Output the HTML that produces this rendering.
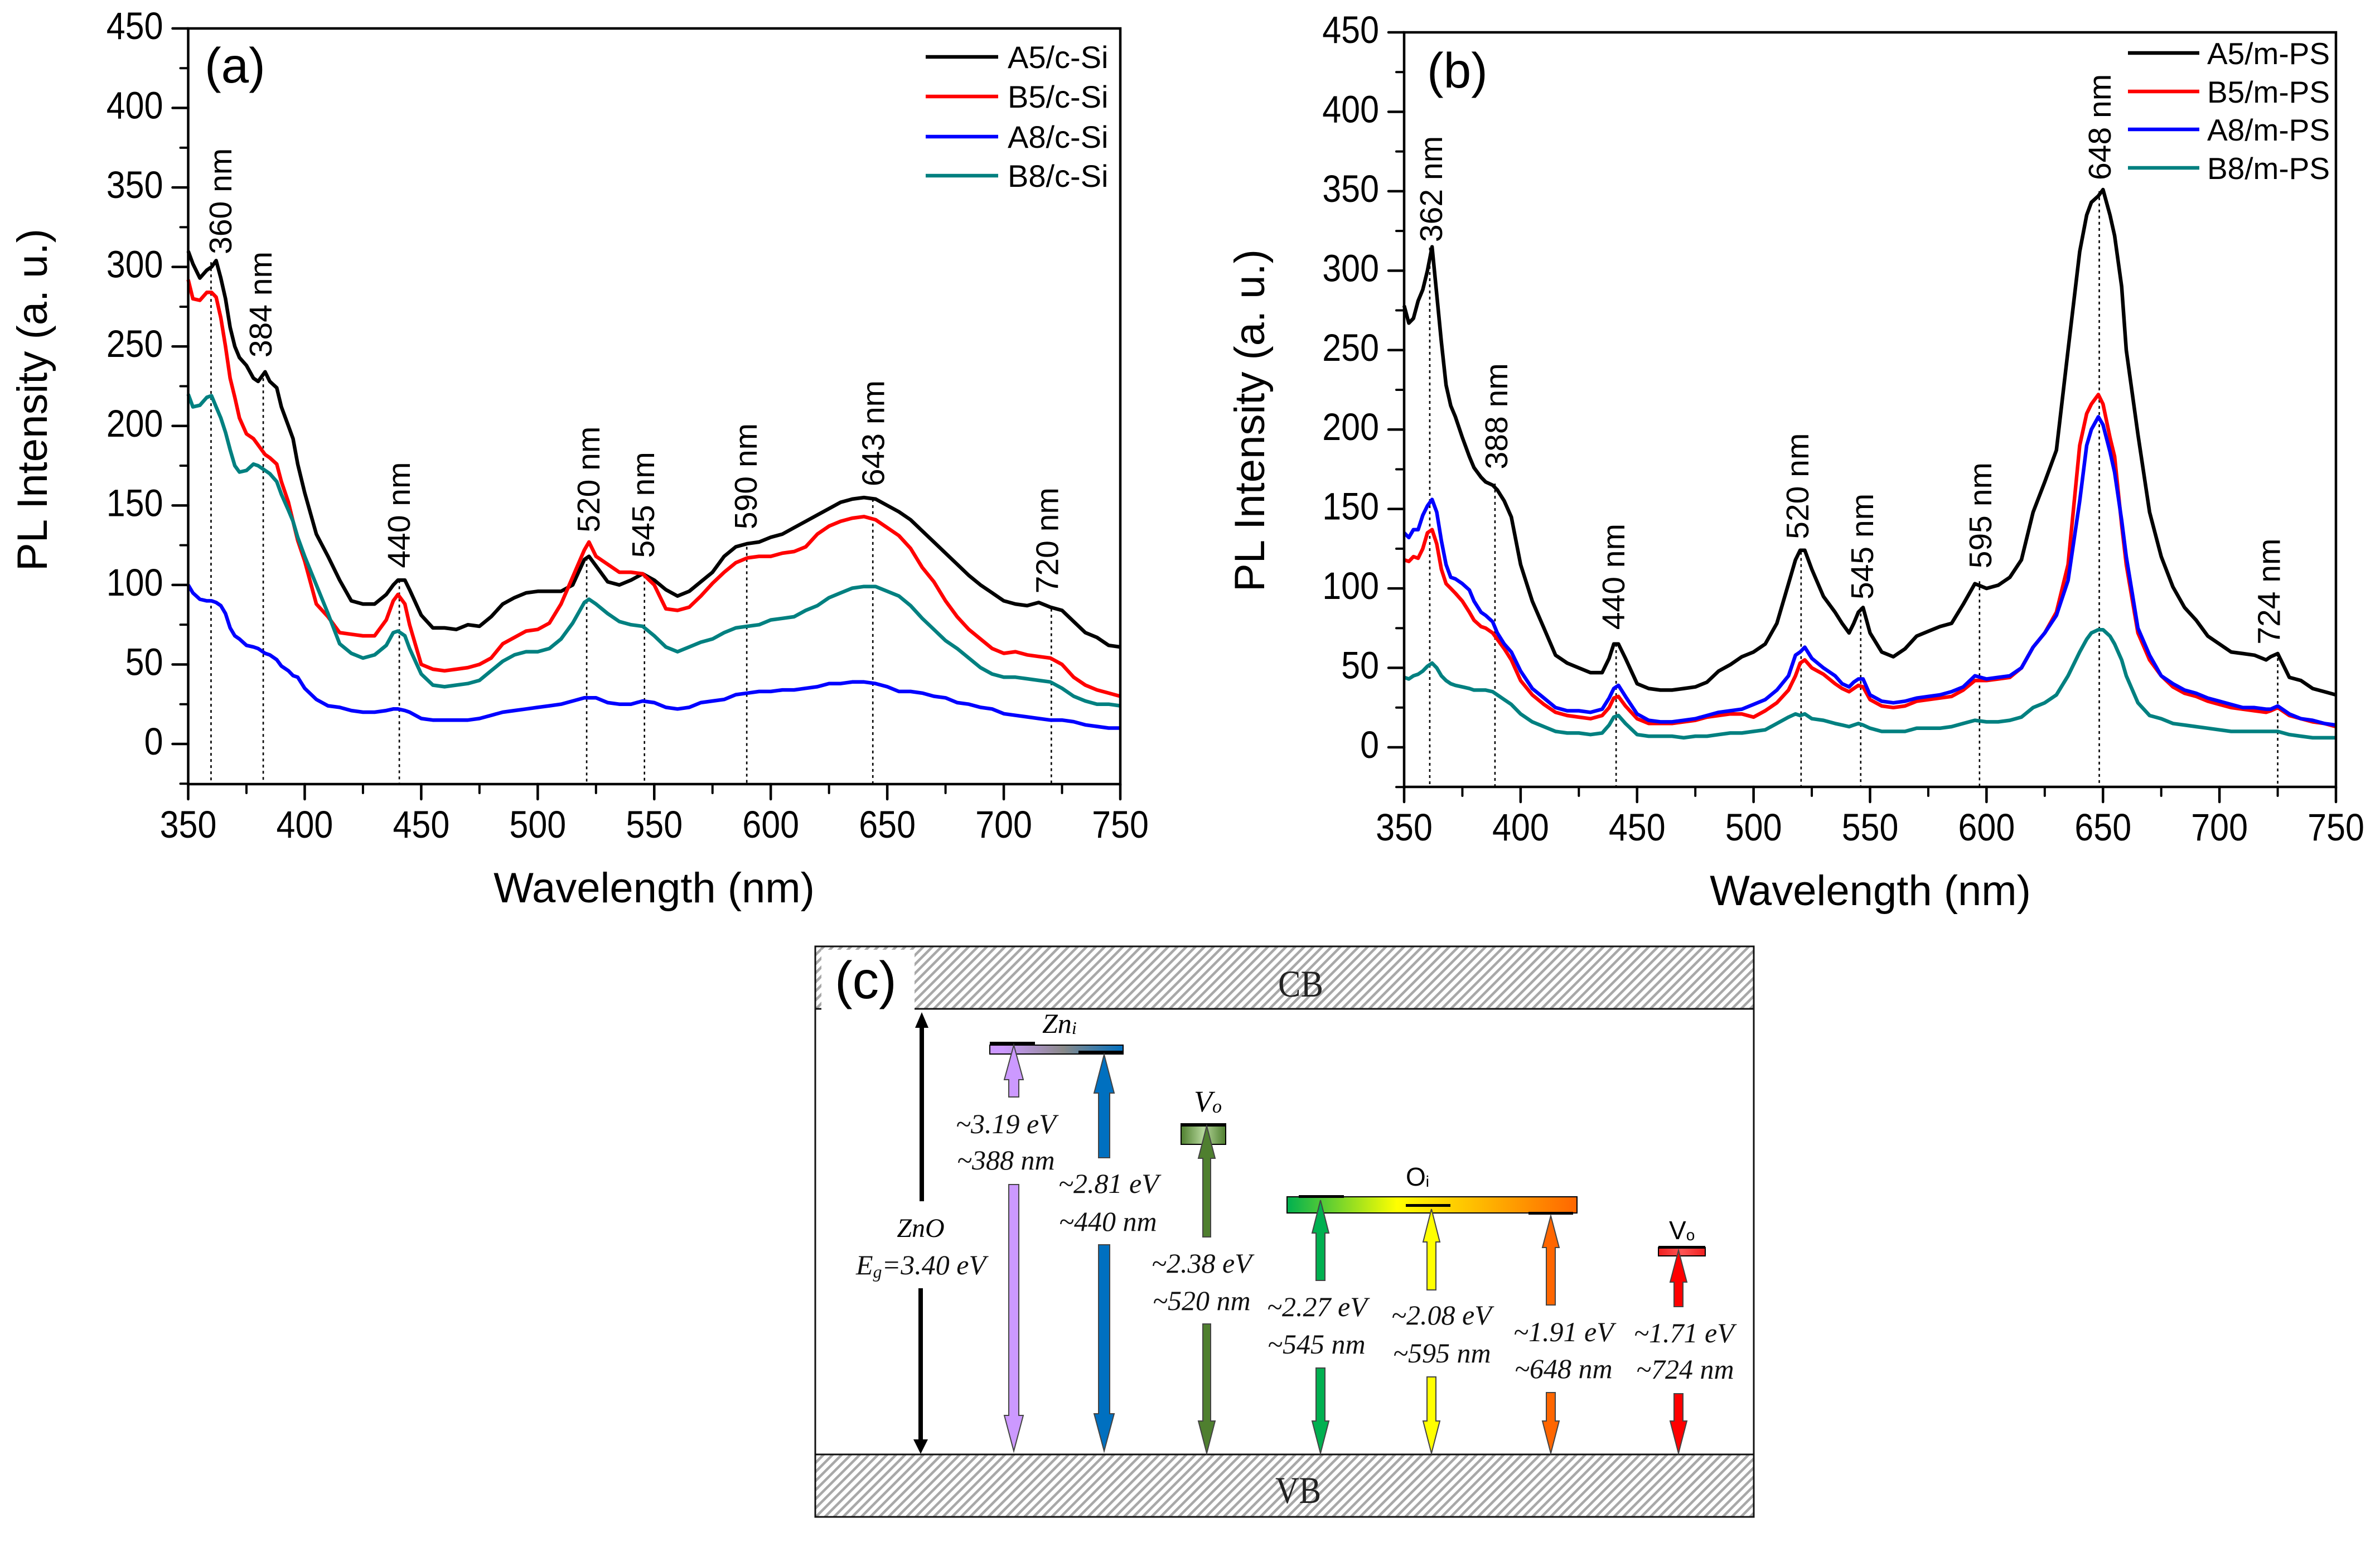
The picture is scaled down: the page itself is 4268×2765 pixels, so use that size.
<!DOCTYPE html>
<html>
<head>
<meta charset="utf-8">
<title>PL spectra and energy diagram</title>
<style>
html,body{margin:0;padding:0;background:#fff;width:4268px;height:2765px;overflow:hidden}
svg{display:block}
text{font-family:"Liberation Sans",sans-serif;fill:#000}
.serif{font-family:"Liberation Serif",serif;font-style:italic}
.leg{font-size:56px}
.legb{font-size:55px}
.axt{font-size:76px}
.e{font-family:"Liberation Serif",serif;font-style:italic;font-size:50px;fill:#111}
.ar{stroke:#444;stroke-width:2}
</style>
</head>
<body>
<svg id="figure" xmlns="http://www.w3.org/2000/svg" width="4268" height="2765" viewBox="0 0 4268 2765">
<defs>
<pattern id="hatch" width="11.5" height="11.5" patternUnits="userSpaceOnUse" patternTransform="rotate(45)">
<rect width="11.5" height="11.5" fill="#fff"/><rect x="0" y="0" width="4.6" height="11.5" fill="#a8a8a8"/>
</pattern>
<linearGradient id="zniGrad"><stop offset="0.1" stop-color="#CC99FF"/><stop offset="0.55" stop-color="#8a8a8a"/><stop offset="1" stop-color="#0070C0"/></linearGradient>
<linearGradient id="voGrad"><stop offset="0" stop-color="#4F7F2F"/><stop offset="0.5" stop-color="#B4D69A"/><stop offset="1" stop-color="#4F7F2F"/></linearGradient>
<linearGradient id="oiGrad"><stop offset="0" stop-color="#00B050"/><stop offset="0.38" stop-color="#FFFF00"/><stop offset="1" stop-color="#FF6600"/></linearGradient>
<linearGradient id="redGrad"><stop offset="0" stop-color="#F02020"/><stop offset="0.5" stop-color="#FF5555"/><stop offset="1" stop-color="#F02020"/></linearGradient>
</defs>

<g id="panelA"></g>
<g id="panelB"></g>

<!-- Panel a static text and legend -->
<text x="367" y="148" font-size="89">(a)</text>
<text x="1173" y="1618" text-anchor="middle" class="axt">Wavelength (nm)</text>
<text transform="translate(84 717) rotate(-90)" text-anchor="middle" class="axt">PL Intensity (a. u.)</text>
<g>
<line x1="1660" x2="1790" y1="102" y2="102" stroke="#000" stroke-width="6.5"/>
<text x="1807" y="122" class="leg">A5/c-Si</text>
<line x1="1660" x2="1790" y1="173" y2="173" stroke="#f00" stroke-width="6.5"/>
<text x="1807" y="193" class="leg">B5/c-Si</text>
<line x1="1660" x2="1790" y1="245" y2="245" stroke="#00f" stroke-width="6.5"/>
<text x="1807" y="265" class="leg">A8/c-Si</text>
<line x1="1660" x2="1790" y1="315" y2="315" stroke="#008080" stroke-width="6.5"/>
<text x="1807" y="335" class="leg">B8/c-Si</text>
</g>

<!-- Panel b static text and legend -->
<text x="2559" y="157" font-size="89">(b)</text>
<text x="3354" y="1623" text-anchor="middle" class="axt">Wavelength (nm)</text>
<text transform="translate(2267 754) rotate(-90)" text-anchor="middle" class="axt">PL Intensity (a. u.)</text>
<g>
<line x1="3816" x2="3944" y1="95" y2="95" stroke="#000" stroke-width="6.5"/>
<text x="3958" y="115" class="legb">A5/m-PS</text>
<line x1="3816" x2="3944" y1="164" y2="164" stroke="#f00" stroke-width="6.5"/>
<text x="3958" y="184" class="legb">B5/m-PS</text>
<line x1="3816" x2="3944" y1="232" y2="232" stroke="#00f" stroke-width="6.5"/>
<text x="3958" y="252" class="legb">A8/m-PS</text>
<line x1="3816" x2="3944" y1="301" y2="301" stroke="#008080" stroke-width="6.5"/>
<text x="3958" y="321" class="legb">B8/m-PS</text>
</g>

<!-- Panel c: energy diagram -->
<g>
<rect x="1462" y="1697" width="1683" height="1023" fill="#fff"/>
<rect x="1462" y="1697" width="1683" height="112" fill="url(#hatch)"/>
<rect x="1462" y="2608" width="1683" height="112" fill="url(#hatch)"/>
<line x1="1462" x2="3145" y1="1809" y2="1809" stroke="#111" stroke-width="3"/>
<line x1="1462" x2="3145" y1="2608" y2="2608" stroke="#111" stroke-width="3"/>
<rect x="1462" y="1697" width="1683" height="1023" fill="none" stroke="#111" stroke-width="3"/>
<rect x="1473" y="1703" width="167" height="109" fill="#fff"/>
<text x="1497" y="1790" font-size="95">(c)</text>
<text x="2292" y="1787" font-size="68" textLength="81" lengthAdjust="spacingAndGlyphs" style="font-family:'Liberation Serif',serif;fill:#222">CB</text>
<text x="2287" y="2695" font-size="68" textLength="82" lengthAdjust="spacingAndGlyphs" style="font-family:'Liberation Serif',serif;fill:#222">VB</text>

<!-- defect level bars -->
<rect x="1775" y="1874" width="239" height="16" fill="url(#zniGrad)" stroke="#000" stroke-width="2"/>
<rect x="1775" y="1868" width="81" height="6" fill="#000"/>
<rect x="1934" y="1884" width="80" height="6" fill="#000"/>
<text x="1869" y="1852" class="serif" font-size="50">Zn<tspan font-size="32" dy="2">i</tspan></text>

<rect x="2118" y="2016" width="80" height="36" fill="url(#voGrad)" stroke="#000" stroke-width="2"/>
<rect x="2117" y="2014" width="82" height="6" fill="#000"/>
<text x="2141" y="1993" class="serif" font-size="54">V<tspan font-size="34" dy="2">o</tspan></text>

<rect x="2308" y="2146" width="520" height="29" fill="url(#oiGrad)" stroke="#000" stroke-width="2"/>
<rect x="2329" y="2143" width="81" height="5" fill="#000"/>
<rect x="2521" y="2159" width="80" height="5" fill="#000"/>
<rect x="2741" y="2173" width="80" height="5" fill="#000"/>
<text x="2521" y="2126" font-size="46">O<tspan font-size="28" dy="2">i</tspan></text>

<rect x="2974" y="2237" width="84" height="15" fill="url(#redGrad)" stroke="#000" stroke-width="2"/>
<rect x="2974" y="2234" width="84" height="5" fill="#000"/>
<text x="2993" y="2222" font-size="46">V<tspan font-size="28" dy="2">o</tspan></text>

<!-- arrows -->
<g fill="#000">
<polygon points="1653,1815 1665,1843 1657,1843 1657,2154 1649,2154 1649,1843 1641,1843"/>
<polygon points="1651,2607 1664,2581 1655,2581 1655,2310 1647,2310 1647,2581 1638,2581"/>
</g>
<g fill="#CC99FF" class="ar">
<polygon points="1818,1874 1835,1936 1827,1936 1827,1967 1809,1967 1809,1936 1801,1936"/>
<polygon points="1818,2602 1835,2538 1827,2538 1827,2124 1809,2124 1809,2538 1801,2538"/>
</g>
<g fill="#0070C0" class="ar">
<polygon points="1980,1891 1998,1960 1990,1960 1990,2076 1970,2076 1970,1960 1962,1960"/>
<polygon points="1980,2602 1998,2535 1990,2535 1990,2232 1970,2232 1970,2535 1962,2535"/>
</g>
<g fill="#4F7F2F" class="ar">
<polygon points="2164,2019 2179,2077 2171,2077 2171,2218 2157,2218 2157,2077 2149,2077"/>
<polygon points="2164,2606 2179,2548 2171,2548 2171,2374 2157,2374 2157,2548 2149,2548"/>
</g>
<g fill="#00B050" class="ar">
<polygon points="2368,2152 2383,2211 2376,2211 2376,2296 2360,2296 2360,2211 2353,2211"/>
<polygon points="2368,2606 2383,2548 2376,2548 2376,2453 2360,2453 2360,2548 2353,2548"/>
</g>
<g fill="#FFFF00" class="ar">
<polygon points="2567,2168 2582,2227 2575,2227 2575,2313 2559,2313 2559,2227 2552,2227"/>
<polygon points="2567,2606 2582,2548 2575,2548 2575,2469 2559,2469 2559,2548 2552,2548"/>
</g>
<g fill="#FF6600" class="ar">
<polygon points="2781,2180 2796,2237 2789,2237 2789,2340 2773,2340 2773,2237 2766,2237"/>
<polygon points="2781,2606 2796,2548 2789,2548 2789,2497 2773,2497 2773,2548 2766,2548"/>
</g>
<g fill="#FF0000" class="ar">
<polygon points="3010,2242 3025,2299 3018,2299 3018,2343 3002,2343 3002,2299 2995,2299"/>
<polygon points="3010,2606 3025,2548 3018,2548 3018,2499 3002,2499 3002,2548 2995,2548"/>
</g>

<!-- transition labels -->
<text x="1651" y="2218" text-anchor="middle" class="serif" font-size="48">ZnO</text>
<text x="1535" y="2285" class="e">E<tspan font-size="32" dy="6">g</tspan><tspan dy="-6">=3.40 eV</tspan></text>
<text x="1714" y="2032" class="e">~3.19 eV</text>
<text x="1716" y="2097" class="e">~388 nm</text>
<text x="1898" y="2139" class="e">~2.81 eV</text>
<text x="1899" y="2207" class="e">~440 nm</text>
<text x="2065" y="2282" class="e">~2.38 eV</text>
<text x="2067" y="2349" class="e">~520 nm</text>
<text x="2272" y="2360" class="e">~2.27 eV</text>
<text x="2273" y="2427" class="e">~545 nm</text>
<text x="2495" y="2375" class="e">~2.08 eV</text>
<text x="2498" y="2443" class="e">~595 nm</text>
<text x="2714" y="2405" class="e">~1.91 eV</text>
<text x="2716" y="2471" class="e">~648 nm</text>
<text x="2930" y="2407" class="e">~1.71 eV</text>
<text x="2934" y="2472" class="e">~724 nm</text>
</g>
</svg>

<script>
const xTickValues = [350,400,450,500,550,600,650,700,750];
const yTickValues = [0,50,100,150,200,250,300,350,400,450];

/* Panel (a) */
const wavelengthsA = [
350,352,355,358,360,362,364,366,368,370,
372,375,378,380,383,385,388,390,393,395,
397,400,405,410,415,420,425,430,435,438,
440,443,445,450,455,460,465,470,475,480,
485,490,495,500,505,510,515,520,522,525,
530,535,540,545,550,555,560,565,570,575,
580,585,590,595,600,605,610,615,620,625,
630,635,640,645,650,655,660,665,670,675,
680,685,690,695,700,705,710,715,720,725,
730,735,740,745,750];
const a5CSi = [
310,302,293,298,300,304,293,280,262,250,
243,238,230,228,234,228,224,212,200,192,
176,158,132,118,103,90,88,88,94,100,
103,103,97,81,73,73,72,75,74,80,
88,92,95,96,96,96,100,116,118,112,
102,100,103,107,103,97,93,96,102,108,
118,124,126,127,130,132,136,140,144,148,
152,154,155,154,150,146,141,134,127,120,
113,106,100,95,90,88,87,89,86,84,
77,70,67,62,61];
const b5CSi = [
292,280,279,284,284,281,268,250,230,218,
205,195,192,188,182,180,176,165,152,140,
128,115,88,80,70,69,68,68,78,90,
94,88,75,50,47,46,47,48,50,54,
63,67,71,72,76,88,105,122,127,118,
113,108,108,107,100,85,84,86,93,101,
108,114,117,118,118,120,121,124,132,137,
140,142,143,141,136,131,123,111,102,90,
80,72,66,60,57,58,56,55,54,50,
42,37,34,32,30];
const a8CSi = [
100,95,91,90,90,89,87,82,73,68,
66,62,61,60,57,56,53,49,46,43,
42,35,28,24,23,21,20,20,21,22,
22,21,20,16,15,15,15,15,16,18,
20,21,22,23,24,25,27,29,29,29,
26,25,25,27,26,23,22,23,26,27,
28,31,32,33,33,34,34,35,36,38,
38,39,39,38,36,33,33,32,30,29,
26,25,23,22,19,18,17,16,15,15,
14,12,11,10,10];
const b8CSi = [
220,212,213,218,219,212,205,196,185,175,
171,172,176,175,172,170,165,157,147,140,
130,118,100,82,63,57,54,56,62,70,
71,68,60,44,37,36,37,38,40,46,
52,56,58,58,60,66,76,89,91,88,
82,77,75,74,68,61,58,61,64,66,
70,73,74,75,78,79,80,84,87,92,
95,98,99,99,96,93,87,79,72,65,
60,54,48,44,42,42,41,40,39,35,
30,27,25,25,24];
const peakLabelsA = ["360 nm","384 nm","440 nm","520 nm","545 nm","590 nm","643 nm","720 nm"];
const peakWavelengthsA = [359.8,382.2,440.6,521,545.8,589.7,643.8,720.4];
const peakHeightsA = [303,230,103,117,106,124,154,85];
const labelWavelengthsA = [368.6,385.8,445.1,526.5,550,594,648.7,723.3];
const labelHeightsA = [308,243,110.6,133,117,135,162,94.6];

/* Panel (b) */
const wavelengthsB = [
350,352,354,356,358,360,362,364,366,368,
370,372,375,378,380,383,385,388,390,393,
396,400,405,410,415,420,425,430,435,438,
440,442,445,450,455,460,465,470,475,480,
485,490,495,500,505,510,515,518,520,522,
525,530,535,538,541,543,545,547,550,555,
560,565,570,575,580,585,590,595,600,605,
610,615,620,625,630,635,640,643,645,648,
650,653,655,658,660,665,670,675,680,685,
690,695,700,705,710,715,720,722,725,730,
735,740,745,750];
const a5MPS = [
278,267,270,281,288,300,315,285,255,228,
215,208,195,183,176,170,167,165,162,155,
145,115,92,75,58,53,50,47,47,56,
65,65,56,40,37,36,36,37,38,41,
48,52,57,60,65,78,103,118,124,124,
112,95,85,78,72,78,85,88,72,60,
57,62,70,73,76,78,90,103,100,102,
107,118,148,167,187,250,312,335,343,347,
351,335,322,290,250,197,148,120,101,88,
80,70,65,60,59,58,55,57,59,44,
42,37,35,33];
const b5MPS = [
118,117,120,119,125,135,137,128,112,103,
100,97,92,85,80,76,75,72,68,62,
55,42,33,27,22,20,19,18,20,25,
31,32,26,18,15,15,15,16,17,19,
20,21,21,19,23,28,36,45,53,55,
50,46,40,37,35,37,39,38,30,26,
25,26,29,30,31,32,36,42,42,43,
44,50,63,72,85,115,190,210,216,222,
216,195,183,140,115,72,55,45,38,34,
32,29,27,25,24,23,22,23,25,20,
18,16,15,13];
const a8MPS = [
135,132,137,137,146,152,156,148,130,115,
107,106,103,99,92,85,83,79,72,65,
60,48,37,31,25,23,23,22,24,31,
37,39,32,21,17,16,16,17,18,20,
22,23,24,27,30,36,45,58,60,63,
56,50,45,40,38,41,43,43,33,29,
28,29,31,32,33,35,38,45,43,44,
45,50,63,72,83,105,155,190,200,208,
203,186,173,143,120,75,58,45,40,36,
34,31,29,27,25,25,24,24,26,21,
18,17,15,14];
const b8MPS = [
44,43,45,46,48,51,53,50,45,42,
40,39,38,37,36,36,36,35,33,30,
27,21,16,13,10,9,9,8,9,14,
19,20,15,8,7,7,7,6,7,7,
8,9,9,10,11,15,19,21,20,21,
18,17,15,14,13,14,15,14,12,10,
10,10,12,12,12,13,15,17,16,16,
17,19,25,28,33,45,60,68,72,74,
74,70,65,55,45,28,20,18,15,14,
13,12,11,10,10,10,10,10,10,8,
7,6,6,6];
const peakLabelsB = ["362 nm","388 nm","440 nm","520 nm","545 nm","595 nm","648 nm","724 nm"];
const peakWavelengthsB = [361,389,441,520.4,546,597,648.4,725];
const peakHeightsB = [314.5,166,65,123,88,104.5,350,60];
const labelWavelengthsB = [366.3,394.3,444.5,523.6,551.3,602.1,653.3,725.9];
const labelHeightsB = [318,175,74,131,93,112.6,357,64.7];

const NS = 'http://www.w3.org/2000/svg';

function drawPanel(cfg) {
  const root = document.getElementById(cfg.id);
  const xScale = function (w) { return cfg.left + (w - 350) / 400 * (cfg.right - cfg.left); };
  const yScale = function (v) { return cfg.zero - v / 450 * (cfg.zero - cfg.top); };
  const make = function (tag, attrs, text) {
    const el = document.createElementNS(NS, tag);
    for (const k in attrs) el.setAttribute(k, attrs[k]);
    if (text !== undefined) el.textContent = text;
    root.appendChild(el);
    return el;
  };

  // dotted peak markers
  cfg.peaks.forEach(function (p, i) {
    const x = xScale(p);
    const el = make('line', {x1: x, x2: x, y1: yScale(cfg.peakHeights[i]), y2: cfg.bottom, stroke: '#000', 'stroke-width': 2.6, 'stroke-dasharray': '5 6'});
    
    
  });

  // series
  cfg.series.forEach(function (s) {
    const pts = s.values.map(function (v, i) { return xScale(cfg.wavelengths[i]).toFixed(1) + ',' + yScale(v).toFixed(1); }).join(' ');
    const el = make('polyline', {points: pts, fill: 'none', stroke: s.color, 'stroke-width': 6.5, 'stroke-linejoin': 'round'});
    
    
  });

  // plot frame
  const frame = make('rect', {x: cfg.left, y: cfg.top, width: cfg.right - cfg.left, height: cfg.bottom - cfg.top, fill: 'none', stroke: '#000', 'stroke-width': 4.5});
  
  

  // x axis ticks
  xTickValues.forEach(function (t, i) {
    const x = xScale(t);
    const tick = make('line', {x1: x, x2: x, y1: cfg.bottom, y2: cfg.bottom + 27, stroke: '#000', 'stroke-width': 4.5, 'stroke-linecap': 'round'});
    
    
    const lx = x;
    const ly = cfg.bottom + 96;
    const label = make('text', {transform: 'translate(' + lx + ' ' + ly + ') scale(1 1.12)', 'text-anchor': 'middle', 'font-size': 61}, String(t));
    
    
    if (i < xTickValues.length - 1) {
      const mx = xScale((t + xTickValues[i + 1]) / 2);
      const minor = make('line', {x1: mx, x2: mx, y1: cfg.bottom, y2: cfg.bottom + 16, stroke: '#000', 'stroke-width': 4, 'stroke-linecap': 'round'});
      
      
    }
  });

  // y axis ticks
  yTickValues.forEach(function (t, i) {
    const y = yScale(t);
    const tick = make('line', {x1: cfg.left - 28, x2: cfg.left, y1: y, y2: y, stroke: '#000', 'stroke-width': 4.5, 'stroke-linecap': 'round'});
    
    
    const lx = cfg.left - 45;
    const ly = y + 19;
    const label = make('text', {transform: 'translate(' + lx + ' ' + ly + ') scale(1 1.12)', 'text-anchor': 'end', 'font-size': 61}, String(t));
    
    
    if (i < yTickValues.length - 1) {
      const my = yScale((t + yTickValues[i + 1]) / 2);
      const minor = make('line', {x1: cfg.left - 14, x2: cfg.left, y1: my, y2: my, stroke: '#000', 'stroke-width': 4, 'stroke-linecap': 'round'});
      
      
    }
  });
  const lowMinor = make('line', {x1: cfg.left - 14, x2: cfg.left, y1: yScale(-25), y2: yScale(-25), stroke: '#000', 'stroke-width': 4, 'stroke-linecap': 'round'});
  
  

  // rotated peak annotations
  cfg.labels.forEach(function (txt, i) {
    const x = xScale(cfg.labelX[i]);
    const y = yScale(cfg.labelY[i]);
    const el = make('text', {x: x, y: y, transform: 'rotate(-90 ' + x + ' ' + y + ')', 'font-size': 57}, txt);
    
    
  });
}

drawPanel({
  id: 'panelA', left: 337.5, right: 2009, top: 51, zero: 1334, bottom: 1406,
  wavelengths: wavelengthsA,
  series: [
    {name: 'series-a5-c-si', color: '#000000', values: a5CSi},
    {name: 'series-b5-c-si', color: '#FF0000', values: b5CSi},
    {name: 'series-a8-c-si', color: '#0000FF', values: a8CSi},
    {name: 'series-b8-c-si', color: '#008080', values: b8CSi}
  ],
  peaks: peakWavelengthsA, peakHeights: peakHeightsA,
  labels: peakLabelsA, labelX: labelWavelengthsA, labelY: labelHeightsA
});

drawPanel({
  id: 'panelB', left: 2518, right: 4189, top: 58, zero: 1340, bottom: 1411,
  wavelengths: wavelengthsB,
  series: [
    {name: 'series-a5-m-ps', color: '#000000', values: a5MPS},
    {name: 'series-b5-m-ps', color: '#FF0000', values: b5MPS},
    {name: 'series-a8-m-ps', color: '#0000FF', values: a8MPS},
    {name: 'series-b8-m-ps', color: '#008080', values: b8MPS}
  ],
  peaks: peakWavelengthsB, peakHeights: peakHeightsB,
  labels: peakLabelsB, labelX: labelWavelengthsB, labelY: labelHeightsB
});
</script>
</body>
</html>
